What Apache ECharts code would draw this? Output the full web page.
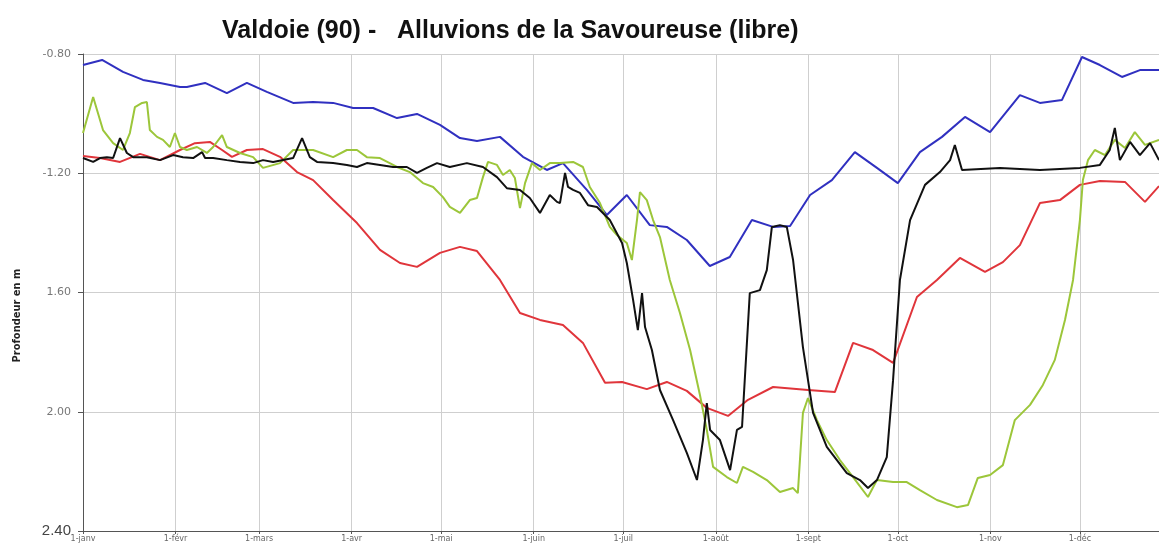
<!DOCTYPE html>
<html>
<head>
<meta charset="utf-8">
<title>Valdoie (90) - Alluvions de la Savoureuse</title>
<script src="https://cdn.jsdelivr.net/npm/echarts@6/dist/echarts.min.js"></script>
<style>
    html, body { margin: 0; padding: 0; background: #fff; }
    #chart { width: 1159px; height: 545px; }
</style>
</head>
<body>
<div id="chart"></div>
<script>
// x = day of year (0 = 1 janvier), y = profondeur en m
const monthStarts = [0, 31, 59, 90, 120, 151, 181, 212, 243, 273, 304, 334];
const monthLabels = ["1-janv", "1-févr", "1-mars", "1-avr", "1-mai", "1-juin", "1-juil", "1-août", "1-sept", "1-oct", "1-nov", "1-déc"];
const yTicks = [0.8, 1.2, 1.6, 2.0, 2.4];
const yTickLabels = ["-0.80", "-1.20", "1.60", "2.00", "2.40"];

const blueDays = [0, 6.4, 13.4, 20.1, 25.8, 32.5, 34.8, 40.9, 48.2, 54.9, 61.6, 70.4, 77.1, 83.8, 90.5, 97.2, 105.2, 111.9, 119.6, 126.3, 132, 139.7, 147.4, 155.4, 160.8, 168.8, 175.5, 182.2, 189.9, 195.6, 202.3, 210, 216.7, 224.1, 231.2, 236.9, 243.6, 250.9, 258.6, 266, 273, 280.4, 287.8, 295.5, 303.9, 313.9, 320.6, 328, 334.7, 340.7, 348.1, 354.1, 360.5];
const blueValues = [0.837, 0.82, 0.86, 0.887, 0.897, 0.911, 0.911, 0.897, 0.931, 0.897, 0.927, 0.964, 0.961, 0.964, 0.981, 0.981, 1.015, 1.001, 1.038, 1.082, 1.092, 1.078, 1.145, 1.189, 1.166, 1.256, 1.34, 1.273, 1.374, 1.38, 1.424, 1.511, 1.481, 1.357, 1.38, 1.377, 1.273, 1.223, 1.129, 1.182, 1.233, 1.129, 1.078, 1.011, 1.062, 0.938, 0.964, 0.954, 0.81, 0.837, 0.877, 0.854, 0.854];

const redDays = [0, 5.7, 12.4, 19.1, 25.8, 32.5, 37.5, 42.5, 46.6, 49.9, 54.9, 60.3, 66, 71.7, 77.1, 83.8, 91.8, 99.5, 106.2, 111.9, 119.6, 126.3, 132, 139.7, 146.4, 153.1, 160.8, 167.5, 174.9, 180.6, 188.9, 195.6, 202.3, 209, 216.1, 222.8, 231.2, 242.9, 251.9, 258, 264.7, 271.4, 279.4, 286.1, 293.8, 302.2, 308.2, 313.9, 320.6, 327.3, 334, 340.7, 349.1, 355.8, 360.5];
const redValues = [1.142, 1.149, 1.162, 1.135, 1.156, 1.122, 1.099, 1.095, 1.122, 1.145, 1.122, 1.119, 1.145, 1.196, 1.223, 1.29, 1.367, 1.457, 1.501, 1.514, 1.467, 1.447, 1.461, 1.558, 1.669, 1.692, 1.709, 1.769, 1.903, 1.9, 1.924, 1.9, 1.93, 1.987, 2.014, 1.96, 1.917, 1.927, 1.934, 1.769, 1.793, 1.836, 1.615, 1.558, 1.484, 1.531, 1.498, 1.441, 1.3, 1.29, 1.239, 1.226, 1.229, 1.296, 1.243];

const greenDays = [0, 3.4, 4.7, 6.7, 10.1, 13.4, 15.7, 17.4, 19.8, 21.4, 22.4, 24.8, 26.8, 29.1, 30.8, 32.5, 34.8, 38.2, 41.5, 43.6, 46.6, 48.2, 52.6, 57, 60.3, 66, 70.4, 77.1, 83.8, 88.4, 91.8, 95.1, 99.5, 105.2, 109.5, 113.9, 117.3, 120.6, 122.9, 126.3, 129.6, 132, 134, 135.7, 138.7, 140.7, 143, 144.7, 146.4, 148.1, 150.4, 153.1, 156.4, 159.8, 164.2, 167.5, 169.8, 173.2, 176.5, 178.9, 182.2, 183.9, 185.6, 186.6, 188.9, 191, 193.3, 196.6, 200, 203.4, 206.7, 209, 211.1, 215.7, 219.1, 221.1, 224.5, 229.1, 233.5, 237.9, 239.5, 241.2, 242.9, 245.9, 249.2, 253.6, 258, 263, 266, 271.4, 276, 280.4, 286.1, 292.8, 296.5, 299.8, 303.9, 308.2, 312.2, 317.3, 321.6, 325.6, 329, 331.7, 334, 335, 336.7, 339, 342.4, 345.7, 349.1, 352.4, 355.8, 360.5];
const greenValues = [1.065, 0.944, 0.988, 1.055, 1.099, 1.122, 1.065, 0.978, 0.964, 0.961, 1.055, 1.078, 1.088, 1.112, 1.065, 1.112, 1.122, 1.112, 1.132, 1.112, 1.072, 1.112, 1.132, 1.146, 1.182, 1.166, 1.122, 1.122, 1.146, 1.122, 1.122, 1.146, 1.149, 1.179, 1.196, 1.233, 1.246, 1.28, 1.313, 1.333, 1.29, 1.283, 1.213, 1.162, 1.172, 1.206, 1.189, 1.216, 1.317, 1.233, 1.166, 1.189, 1.166, 1.166, 1.162, 1.179, 1.246, 1.3, 1.38, 1.407, 1.434, 1.491, 1.357, 1.263, 1.29, 1.357, 1.414, 1.558, 1.669, 1.793, 1.944, 2.061, 2.185, 2.219, 2.239, 2.185, 2.202, 2.229, 2.269, 2.256, 2.273, 2.004, 1.954, 2.028, 2.095, 2.162, 2.219, 2.286, 2.229, 2.236, 2.236, 2.263, 2.296, 2.32, 2.313, 2.222, 2.212, 2.179, 2.028, 1.977, 1.91, 1.826, 1.692, 1.558, 1.357, 1.223, 1.156, 1.122, 1.139, 1.088, 1.115, 1.062, 1.105, 1.088];

const blackDays = [0, 3.4, 5.7, 8, 10.1, 12.4, 14.7, 16.8, 21.4, 25.8, 30.2, 33.5, 36.9, 39.9, 40.9, 43.6, 48.2, 52.6, 57, 60.3, 63.7, 70.4, 73.4, 76, 78.4, 83.8, 88.4, 91.8, 95.1, 99.5, 103.9, 108.5, 111.9, 115.2, 118.6, 122.9, 128.6, 134, 138.7, 142, 146.4, 149.7, 153.1, 156.4, 158.8, 159.8, 161.5, 162.5, 164.2, 166.5, 169.2, 172.2, 176.5, 180.6, 182.2, 184.3, 185.9, 187.3, 188.3, 190.6, 193.3, 197.7, 202.3, 205.7, 207.7, 209, 210.1, 213.4, 216.8, 219.1, 220.8, 223.4, 226.8, 229.1, 230.8, 233.5, 235.8, 237.9, 241.2, 244.6, 249.2, 255.9, 260.3, 263, 266, 269.3, 271.4, 273.7, 277.1, 282.1, 287.1, 290.5, 292.1, 294.5, 307.2, 320.6, 334, 340.7, 344, 345.7, 347.4, 350.8, 354.1, 357.5, 360.5];
const blackValues = [1.149, 1.162, 1.149, 1.146, 1.149, 1.082, 1.132, 1.146, 1.146, 1.156, 1.139, 1.146, 1.149, 1.129, 1.149, 1.149, 1.156, 1.162, 1.166, 1.156, 1.162, 1.149, 1.082, 1.146, 1.162, 1.166, 1.172, 1.179, 1.166, 1.172, 1.179, 1.179, 1.199, 1.182, 1.166, 1.179, 1.166, 1.179, 1.213, 1.25, 1.256, 1.283, 1.333, 1.273, 1.296, 1.3, 1.199, 1.246, 1.256, 1.266, 1.307, 1.313, 1.357, 1.434, 1.501, 1.625, 1.726, 1.602, 1.716, 1.793, 1.927, 2.028, 2.138, 2.229, 2.095, 1.971, 2.061, 2.095, 2.196, 2.061, 2.051, 1.602, 1.592, 1.525, 1.38, 1.374, 1.38, 1.491, 1.783, 2.004, 2.118, 2.206, 2.229, 2.256, 2.229, 2.152, 1.894, 1.558, 1.357, 1.239, 1.196, 1.156, 1.105, 1.189, 1.182, 1.189, 1.182, 1.172, 1.122, 1.048, 1.156, 1.095, 1.139, 1.099, 1.156];

function pairs(days, values) {
    return days.map((d, i) => [d, values[i]]);
}

function lineSeries(name, days, values, color) {
    return {
        name,
        type: "line",
        data: pairs(days, values),
        symbol: "none",
        smooth: false,
        lineStyle: { width: 2, color },
        itemStyle: { color },
        animation: false
    };
}

const chart = echarts.init(document.getElementById("chart"), null, { renderer: "canvas" });

chart.setOption({
    backgroundColor: "#fff",
    animation: false,
    title: {
        text: "Valdoie (90) -   Alluvions de la Savoureuse (libre)",
        left: 217,
        top: 14,
        textStyle: {
            fontFamily: "Liberation Sans",
            fontWeight: "bold",
            fontSize: 25,
            color: "#111"
        }
    },
    grid: { left: 83, right: 0, top: 54, bottom: 14, containLabel: false },
    xAxis: {
        type: "value",
        min: 0,
        max: 360.5,
        axisLine: { show: true, onZero: false, lineStyle: { color: "#555", width: 1 } },
        axisTick: { show: true, length: 3, customValues: monthStarts, lineStyle: { color: "#555" } },
        axisLabel: {
            customValues: monthStarts,
            margin: 4,
            fontSize: 8,
            color: "#666",
            fontFamily: "DejaVu Sans",
            formatter: value => monthLabels[monthStarts.indexOf(value)] || ""
        },
        splitLine: { show: true, lineStyle: { color: "#cfcfcf", width: 1 } }
    },
    yAxis: {
        type: "value",
        inverse: true,
        min: 0.8,
        max: 2.4,
        interval: 0.4,
        name: "Profondeur en m",
        nameLocation: "middle",
        nameRotate: 90,
        nameGap: 60,
        nameTextStyle: {
            fontFamily: "'Liberation Sans Narrow', 'DejaVu Sans Condensed', 'Liberation Sans', sans-serif",
            fontWeight: "bold",
            fontSize: 11,
            color: "#222",
            padding: [0, 46, 0, 0]
        },
        axisLine: { show: true, lineStyle: { color: "#555", width: 1 } },
        axisTick: { show: true, length: 5, lineStyle: { color: "#555" } },
        axisLabel: {
            margin: 12,
            fontSize: 11,
            color: "#777",
            fontFamily: "DejaVu Sans",
            formatter: value => {
                const i = yTicks.findIndex(t => Math.abs(t - value) < 1e-6);
                if (i < 0) {
                    return "";
                }
                return i === yTicks.length - 1 ? `{big|${yTickLabels[i]}}` : yTickLabels[i];
            },
            rich: {
                big: { fontSize: 15, color: "#444", fontFamily: "Liberation Sans" }
            }
        },
        splitLine: { show: true, lineStyle: { color: "#cfcfcf", width: 1 } }
    },
    series: [
        lineSeries("Bleu", blueDays, blueValues, "#3030c0"),
        lineSeries("Rouge", redDays, redValues, "#e0353b"),
        lineSeries("Vert", greenDays, greenValues, "#9cc63a"),
        lineSeries("Noir", blackDays, blackValues, "#111111")
    ]
});

window.addEventListener("resize", () => chart.resize());
</script>
</body>
</html>
